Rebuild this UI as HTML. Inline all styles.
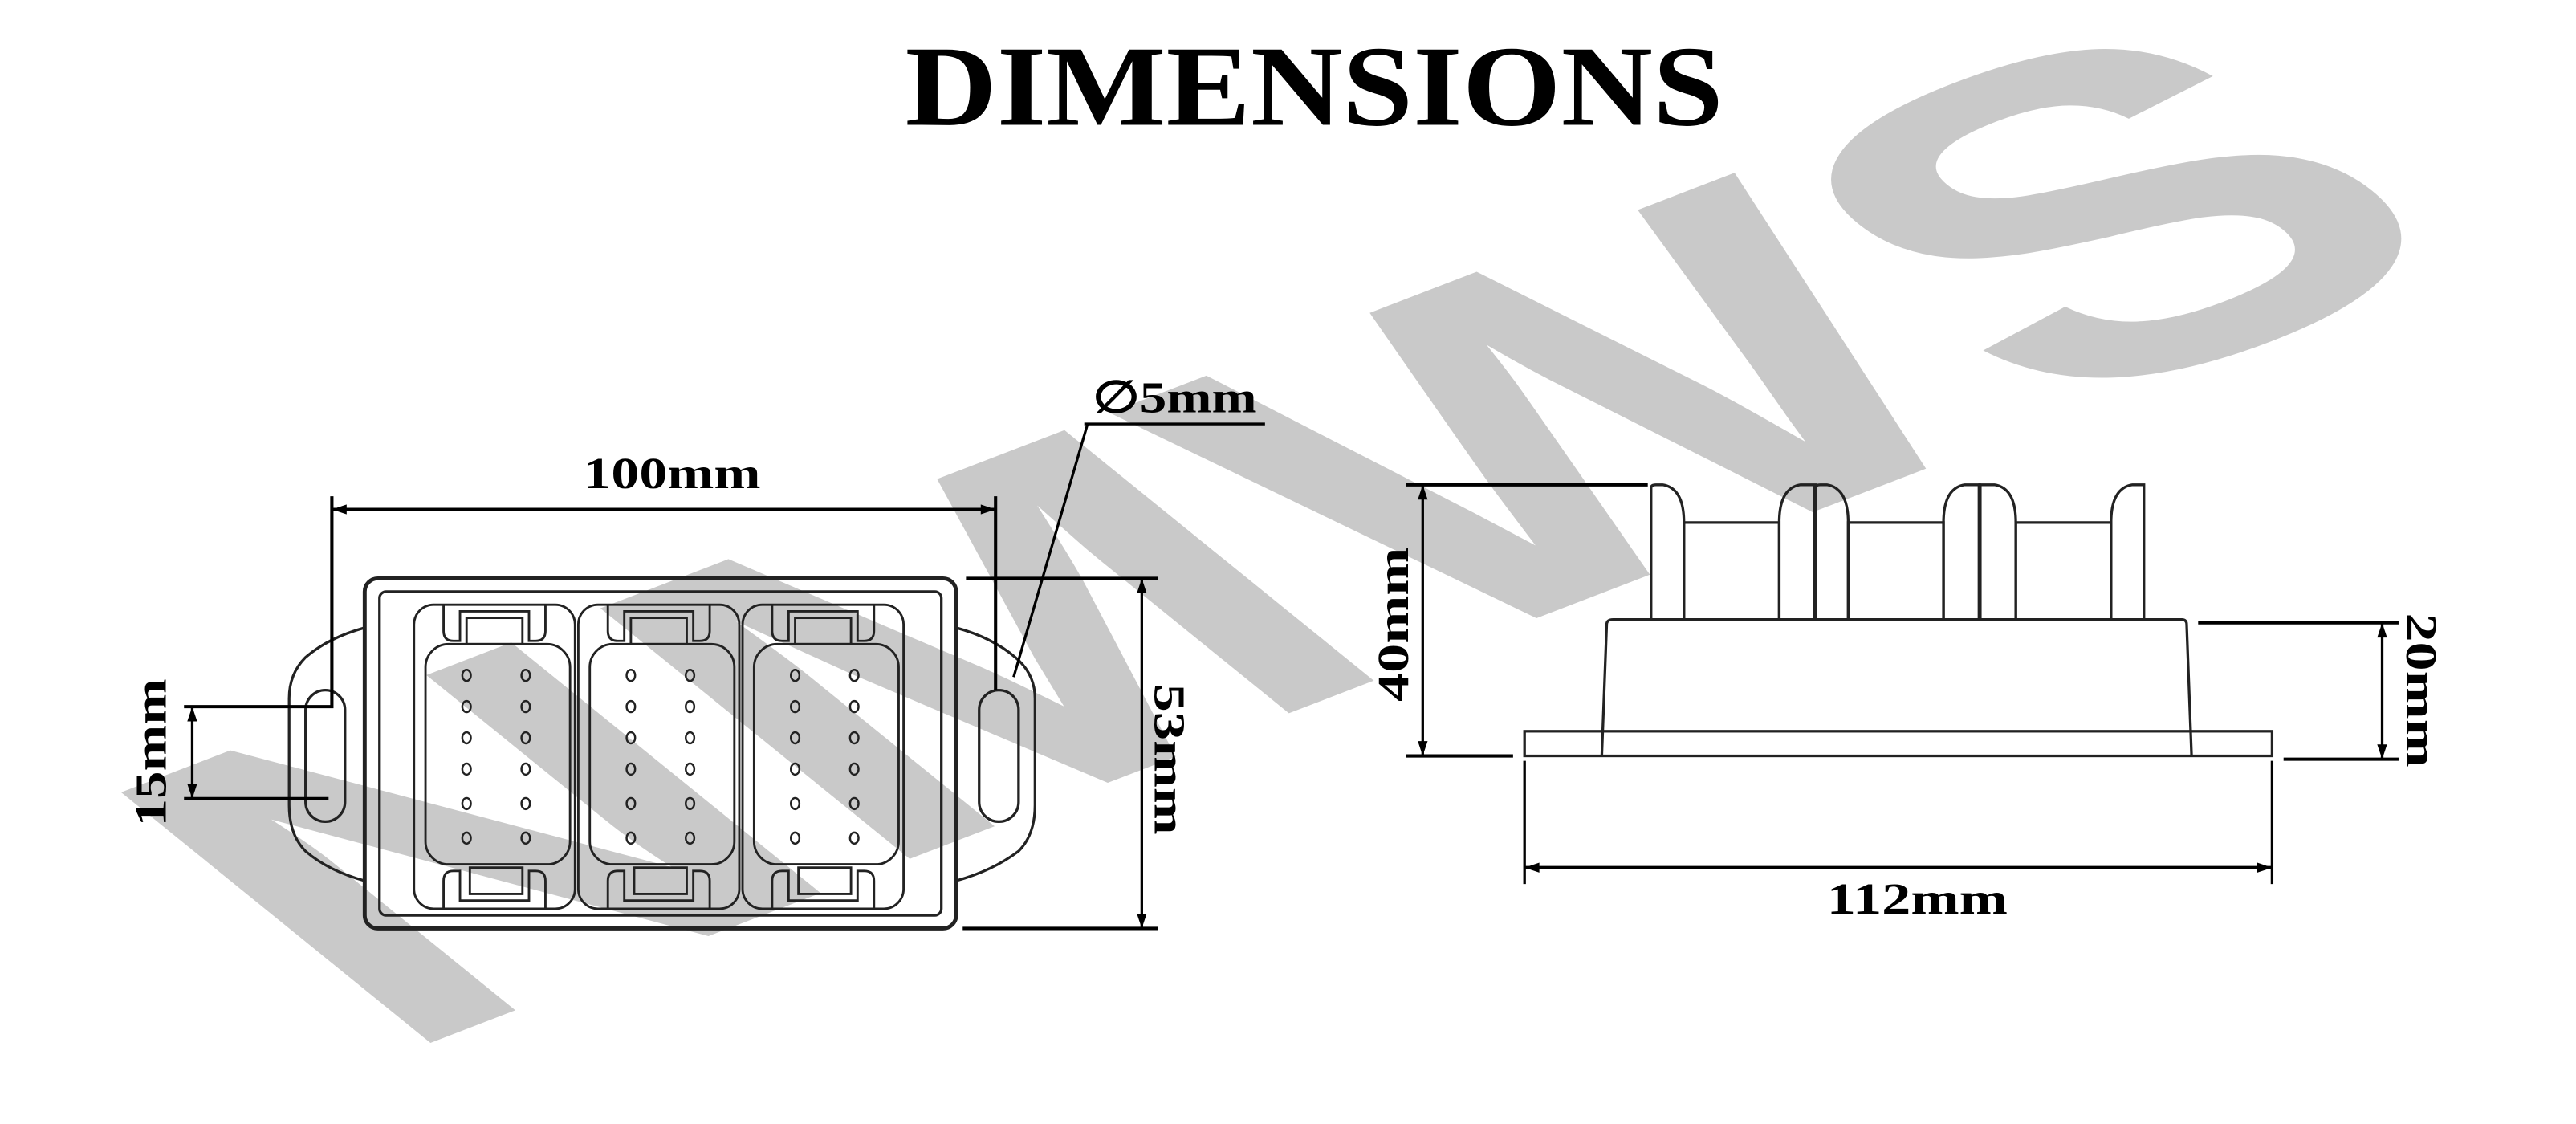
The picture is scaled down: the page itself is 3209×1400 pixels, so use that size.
<!DOCTYPE html>
<html><head><meta charset="utf-8"><style>
html,body{margin:0;padding:0;background:#fff;width:3209px;height:1400px;overflow:hidden}
svg{display:block}
text{font-family:"Liberation Serif",serif;font-weight:bold;fill:#000}
</style></head><body>
<svg width="3209" height="1400" viewBox="0 0 1568 684" preserveAspectRatio="none" xmlns="http://www.w3.org/2000/svg" overflow="hidden">
<rect width="1568" height="684" fill="#fff"/>
<text x="0" y="0" transform="translate(235,645) rotate(-21) skewX(30)" style="font-family:'Liberation Sans',sans-serif;font-weight:bold;fill:#c9c9c9" font-size="305" textLength="1370" lengthAdjust="spacingAndGlyphs">NMWS</text>

<text x="800" y="76" text-anchor="middle" font-size="70" textLength="498" lengthAdjust="spacingAndGlyphs">DIMENSIONS</text>

<g fill="none" stroke="#222" stroke-width="1.6">
<path d="M222,382 Q200,388 186,400 Q176,410 176,425 L176,490 Q176,508 186,518 Q200,530 222,536"/>
<path d="M582,382 Q604,388 618,400 Q630,410 630,425 L630,490 Q630,508 620,518 Q604,530 582,536"/>
<rect x="186" y="420" width="24" height="80" rx="12"/>
<rect x="596" y="420" width="24" height="80" rx="12"/>
<rect x="222" y="352" width="360" height="213" rx="8" stroke-width="2.4"/>
<rect x="231" y="360" width="342" height="197" rx="4"/>
</g>
<g fill="none" stroke="#222" stroke-width="1.4">
<g id="mod">
<rect x="252" y="368" width="98" height="185" rx="12"/>
<path d="M270,368 L270,384 Q270,390 276,390 L280,390 L280,372 L322,372 L322,390 L326,390 Q332,390 332,384 L332,368"/>
<rect x="284" y="376" width="34" height="16"/>
<rect x="259" y="392" width="88" height="134" rx="14"/>
<path d="M270,553 L270,536 Q270,530 276,530 L280,530 L280,548 L322,548 L322,530 L326,530 Q332,530 332,536 L332,553"/>
<rect x="286" y="528" width="32" height="16"/>
<g stroke-width="1.2">
<ellipse cx="284" cy="411" rx="2.6" ry="3.4"/><ellipse cx="320" cy="411" rx="2.6" ry="3.4"/>
<ellipse cx="284" cy="430" rx="2.6" ry="3.4"/><ellipse cx="320" cy="430" rx="2.6" ry="3.4"/>
<ellipse cx="284" cy="449" rx="2.6" ry="3.4"/><ellipse cx="320" cy="449" rx="2.6" ry="3.4"/>
<ellipse cx="284" cy="468" rx="2.6" ry="3.4"/><ellipse cx="320" cy="468" rx="2.6" ry="3.4"/>
<ellipse cx="284" cy="489" rx="2.6" ry="3.4"/><ellipse cx="320" cy="489" rx="2.6" ry="3.4"/>
<ellipse cx="284" cy="510" rx="2.6" ry="3.4"/><ellipse cx="320" cy="510" rx="2.6" ry="3.4"/>
</g>
</g>
<use href="#mod" x="100"/>
<use href="#mod" x="200"/>
</g>

<g stroke="#000" stroke-width="2" fill="none">
<path d="M202,302 L202,430 L112,430"/>
<path d="M112,486 L200,486"/>
<path d="M202,310 L606,310"/>
<path d="M606,302 L606,420"/>
<path d="M588,352 L705,352 M586,565 L705,565"/>
<path d="M695,352 L695,565" stroke-width="1.6"/>
<path d="M117,430 L117,486" stroke-width="1.6"/>
<path d="M660,258 L770,258" stroke-width="1.6"/>
<path d="M662,258 L617,412" stroke-width="1.6"/>
</g>
<g fill="#000">
<path d="M202,310 l9,-3 v6z M606,310 l-9,-3 v6z"/>
<path d="M695,352 l-3,9 h6z M695,565 l-3,-9 h6z"/>
<path d="M117,430 l-3,9 h6z M117,486 l-3,-9 h6z"/>
<path d="M866,295 l-3,9 h6z M866,460 l-3,-9 h6z"/>
<path d="M1450,379 l-3,9 h6z M1450,462 l-3,-9 h6z"/>
<path d="M928,528 l9,-3 v6z M1383,528 l-9,-3 v6z"/>
</g>
<text x="409" y="297" text-anchor="middle" font-size="27" textLength="108" lengthAdjust="spacingAndGlyphs">100mm</text>
<text x="665" y="251" font-size="27" textLength="100" lengthAdjust="spacingAndGlyphs">∅5mm</text>
<text transform="translate(101,458) rotate(-90)" text-anchor="middle" font-size="27" textLength="90" lengthAdjust="spacingAndGlyphs">15mm</text>
<text transform="translate(703,462) rotate(90)" text-anchor="middle" font-size="27" textLength="92" lengthAdjust="spacingAndGlyphs">53mm</text>

<g fill="none" stroke="#222" stroke-width="1.6">
<rect x="928" y="445" width="455" height="15"/>
<path d="M975,460 L978,380 Q978,377 982,377 L1328,377 Q1331,377 1331,380 L1334,460"/>
<g id="bay">
<path d="M1005,377 L1005,297 Q1005,295 1008,295 L1012,295 Q1025,297 1025,318 L1025,377"/>
<rect x="1025" y="318" width="58" height="59"/>
<path d="M1083,377 L1083,318 Q1083,297 1096,295 L1105,295 L1105,377" />
</g>
<use href="#bay" x="100"/>
<path d="M1205,377 L1205,295 L1214,295 Q1227,297 1227,318 L1227,377"/>
<rect x="1227" y="318" width="58" height="59"/>
<path d="M1285,377 L1285,318 Q1285,297 1298,295 L1305,295 L1305,377"/>
<path d="M1105,295 L1105,377 M1205,295 L1205,377" stroke-width="2.4"/>
</g>
<g stroke="#000" stroke-width="2" fill="none">
<path d="M856,295 L1003,295 M856,460 L921,460"/>
<path d="M866,295 L866,460" stroke-width="1.6"/>
<path d="M1338,379 L1460,379 M1390,462 L1460,462"/>
<path d="M1450,379 L1450,462" stroke-width="1.6"/>
<path d="M928,463 L928,538 M1383,463 L1383,538" stroke-width="1.6"/>
<path d="M928,528 L1383,528"/>
</g>
<text transform="translate(857,380) rotate(-90)" text-anchor="middle" font-size="27" textLength="94" lengthAdjust="spacingAndGlyphs">40mm</text>
<text transform="translate(1465,420) rotate(90)" text-anchor="middle" font-size="27" textLength="94" lengthAdjust="spacingAndGlyphs">20mm</text>
<text x="1167" y="556" text-anchor="middle" font-size="27" textLength="110" lengthAdjust="spacingAndGlyphs">112mm</text>
</svg>
</body></html>
